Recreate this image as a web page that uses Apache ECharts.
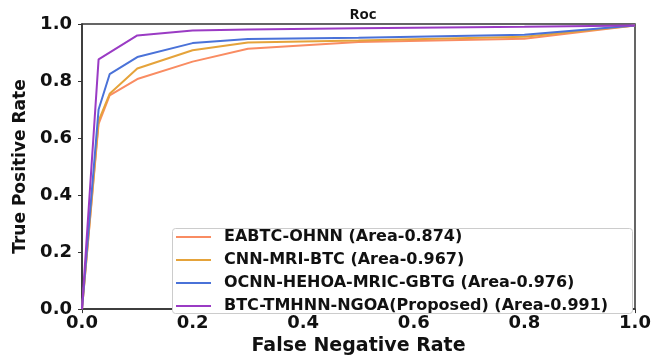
<!DOCTYPE html>
<html>
<head>
<meta charset="utf-8">
<script src="https://cdn.jsdelivr.net/npm/echarts@6/dist/echarts.min.js"></script>
<style>
html,body{margin:0;padding:0;background:#fff;}
#chartmain{width:670px;height:361px;}
</style>
</head>
<body>
<div id="chartmain"></div>
<script>
var fnr=[0,0.03,0.05,0.1,0.2,0.3,0.5,0.8,1.0];
var eabtc=[0,0.65,0.75,0.807,0.868,0.913,0.937,0.948,0.995];
var cnnMri=[0,0.66,0.755,0.844,0.908,0.935,0.942,0.955,0.995];
var ocnn=[0,0.70,0.824,0.884,0.933,0.947,0.952,0.962,0.995];
var btcProposed=[0,0.876,0.876,0.96,0.977,0.981,0.985,0.99,0.995];
var names=['EABTC-OHNN (Area-0.874)','CNN-MRI-BTC (Area-0.967)','OCNN-HEHOA-MRIC-GBTG (Area-0.976)','BTC-TMHNN-NGOA(Proposed) (Area-0.991)'];
var colors=['#F98C62','#E5A33A','#4A72D8','#9A3BC4'];
var tickLabels=['0.0','0.2','0.4','0.6','0.8','1.0'];

function pairs(ys){
	var out=[];
	for(var i=0;i<fnr.length;i++){out.push([fnr[i],ys[i]]);}
	return out;
}
// purple has its corner at 0.03, so drop the duplicate point at 0.05
var purple=pairs(btcProposed);
purple.splice(2,1);

var allSeries=[pairs(eabtc),pairs(cnnMri),pairs(ocnn),purple];
var series=[];
for(var i=0;i<allSeries.length;i++){
	series.push({
		name:names[i],
		type:'line',
		data:allSeries[i],
		showSymbol:false,
		lineStyle:{width:2,color:colors[i]},
		itemStyle:{color:colors[i]}
	});
}
var bold={fontFamily:'DejaVu Sans',fontWeight:'bold',color:'#111'};
var option={
	animation:false,
	title:{
		text:'Roc',
		left:358,
		top:2,
		textAlign:'center',
		textStyle:{fontFamily:'Open Sans',fontWeight:'bold',fontSize:15,color:'#111'}
	},
	grid:{left:82,right:35,top:24,bottom:47,show:true,borderColor:'#333',borderWidth:1.5},
	// legend frame, wider than the text like in the original
	graphic:[{
		type:'rect',
		left:172,
		top:228,
		z:3,
		shape:{width:460,height:85,r:3},
		style:{fill:'#fff',stroke:'#ccc',lineWidth:1}
	}],
	legend:{
		orient:'vertical',
		left:176,
		top:229,
		z:5,
		data:names,
		icon:'rect',
		itemWidth:35,
		itemHeight:2,
		itemGap:7,
		padding:0,
		textStyle:{fontFamily:'DejaVu Sans',fontWeight:'bold',fontSize:16,color:'#111',padding:[0,0,0,8]}
	},
	xAxis:{
		type:'value',
		min:0,max:1,interval:0.2,
		name:'False Negative Rate',
		nameLocation:'middle',
		nameGap:27,
		nameTextStyle:Object.assign({fontSize:19},bold),
		axisLine:{show:true,lineStyle:{color:'#333',width:1.5}},
		axisTick:{show:true,length:4,lineStyle:{color:'#333'}},
		splitLine:{show:false},
		axisLabel:Object.assign({fontSize:18,margin:5,formatter:function(v){return tickLabels[Math.round(v*5)];}},bold)
	},
	yAxis:{
		type:'value',
		min:0,max:1,interval:0.2,
		name:'True Positive Rate',
		nameLocation:'middle',
		nameGap:49,
		nameTextStyle:Object.assign({fontSize:17},bold),
		axisLine:{show:true,lineStyle:{color:'#333',width:1.5}},
		axisTick:{show:true,length:4,lineStyle:{color:'#333'}},
		splitLine:{show:false},
		axisLabel:Object.assign({fontSize:18,margin:10,formatter:function(v){return tickLabels[Math.round(v*5)];}},bold)
	},
	series:series
};
var myChart=echarts.init(document.getElementById('chartmain'));
myChart.setOption(option);
</script>
</body>
</html>
